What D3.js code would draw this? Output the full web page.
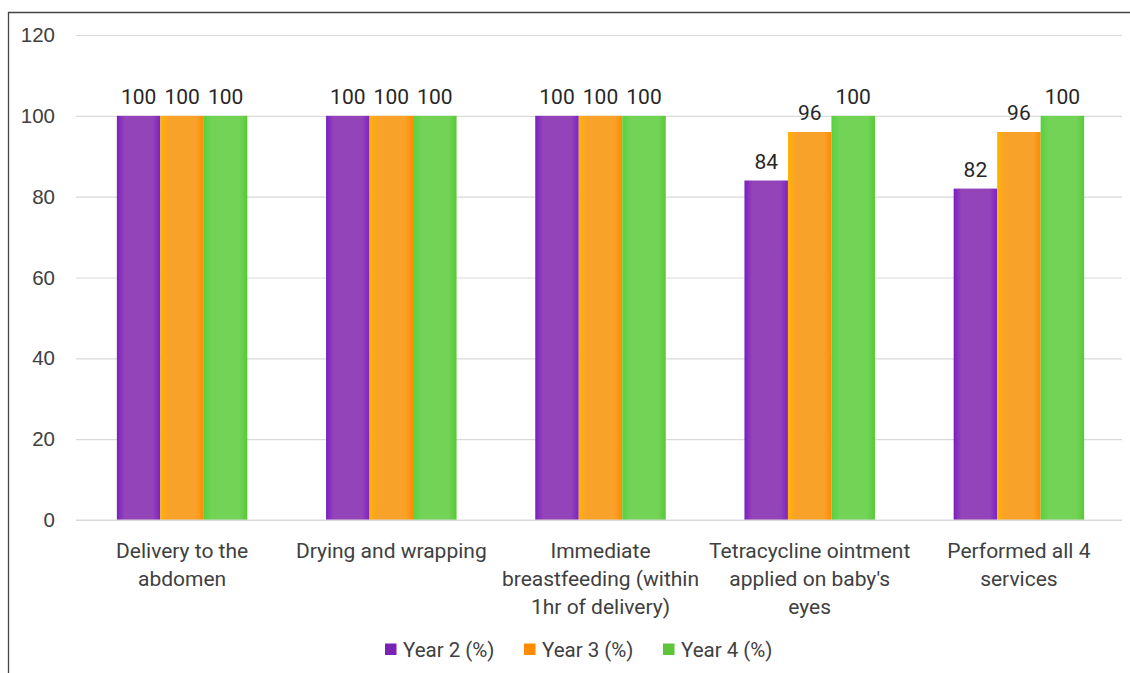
<!DOCTYPE html>
<html>
<head>
<meta charset="utf-8">
<script src="https://cdn.jsdelivr.net/npm/d3@7"></script>
<style>
  html, body { margin: 0; padding: 0; background: #fff; }
  svg { display: block; font-family: Roboto, "Noto Sans", sans-serif; }
</style>
</head>
<body>
<svg id="chart" width="1130" height="673"></svg>
<script>
const categories = [
  ["Delivery to the", "abdomen"],
  ["Drying and wrapping"],
  ["Immediate", "breastfeeding (within", "1hr of delivery)"],
  ["Tetracycline ointment", "applied on baby's", "eyes"],
  ["Performed all 4", "services"]
];
const seriesNames = ["Year 2 (%)", "Year 3 (%)", "Year 4 (%)"];
const year2 = [100, 100, 100, 84, 82];
const year3 = [100, 100, 100, 96, 96];
const year4 = [100, 100, 100, 100, 100];
const yTicks = [0, 20, 40, 60, 80, 100, 120];

(function () {
const seriesValues = [year2, year3, year4];
const gradStops = [
  ["#7a1fbf", "#9444b9", "#9444b9", "#7d22c2"],
  ["#ffb300", "#f9a22a", "#f9a22a", "#ff8a00"],
  ["#55d23e", "#72d357", "#72d357", "#57c936"]
];
const legendColors = ["#7a22b5", "#ff8c00", "#5cc53a"];

const svg = d3.select("#chart");
const W = 1130, H = 673;

svg.append("path")
  .attr("d", `M8.5,${H} L8.5,12.5 L${W},12.5`)
  .attr("fill", "none").attr("stroke", "#444").attr("stroke-width", 1.3);

const pLeft = 76, pRight = 1122, pTop = 35, pBottom = 520;

const x0 = d3.scaleBand().domain(d3.range(categories.length)).range([pLeft + 1.5, pRight + 1.5]).paddingInner(0).paddingOuter(0);
const groupW = x0.bandwidth();
const barW = 43.5;
const x1 = d3.scaleBand().domain(d3.range(3)).range([-barW * 1.5, barW * 1.5]);
const y = d3.scaleLinear().domain([0, 120]).range([pBottom, pTop]);

const defs = svg.append("defs");
gradStops.forEach((s, i) => {
  const g = defs.append("linearGradient").attr("id", "g" + i).attr("x1", "0").attr("x2", "1").attr("y1", "0").attr("y2", "0");
  g.append("stop").attr("offset", "0%").attr("stop-color", s[0]);
  g.append("stop").attr("offset", "18%").attr("stop-color", s[1]);
  g.append("stop").attr("offset", "82%").attr("stop-color", s[2]);
  g.append("stop").attr("offset", "100%").attr("stop-color", s[3]);
});

const yAxis = d3.axisLeft(y).tickValues(yTicks).tickSize(-(pRight - pLeft)).tickPadding(21);
const ga = svg.append("g").attr("transform", `translate(${pLeft},0)`).call(yAxis);
ga.select(".domain").remove();
ga.selectAll(".tick line").attr("stroke", "#d9d9d9").attr("stroke-width", 1.2);
ga.selectAll(".tick text").attr("fill", "#404040").attr("font-size", 20.5).attr("text-anchor", "end");

seriesValues.forEach((vals, si) => {
  svg.append("g").selectAll("rect").data(vals).enter().append("rect")
    .attr("x", (d, i) => x0(i) + groupW / 2 + x1(si))
    .attr("y", d => y(d))
    .attr("width", x1.bandwidth())
    .attr("height", d => y(0) - y(d))
    .attr("fill", `url(#g${si})`);
  svg.append("g").selectAll("text").data(vals).enter().append("text")
    .attr("x", (d, i) => x0(i) + groupW / 2 + x1(si) + x1.bandwidth() / 2)
    .attr("y", d => y(d) - 12)
    .attr("text-anchor", "middle")
    .attr("font-size", 21)
    .attr("fill", "#262626")
    .text(d => d);
});

svg.append("line").attr("x1", pLeft).attr("x2", pRight).attr("y1", y(0)).attr("y2", y(0))
  .attr("stroke", "#d9d9d9").attr("stroke-width", 1.2);

const cl = svg.append("g");
categories.forEach((lines, i) => {
  const t = cl.append("text")
    .attr("x", x0(i) + groupW / 2)
    .attr("y", 558)
    .attr("text-anchor", "middle")
    .attr("font-size", 21)
    .attr("fill", "#404040");
  lines.forEach((ln, j) => {
    t.append("tspan").attr("x", x0(i) + groupW / 2).attr("dy", j === 0 ? 0 : 28).text(ln);
  });
});

const legendX = [385, 524, 663];
const lg = svg.append("g");
seriesNames.forEach((name, i) => {
  lg.append("rect").attr("x", legendX[i]).attr("y", 643.5).attr("width", 11.5).attr("height", 11.5).attr("fill", legendColors[i]);
  lg.append("text").attr("x", legendX[i] + 18).attr("y", 656.5).attr("font-size", 20.5).attr("fill", "#404040").text(name);
});
})();
</script>
</body>
</html>
